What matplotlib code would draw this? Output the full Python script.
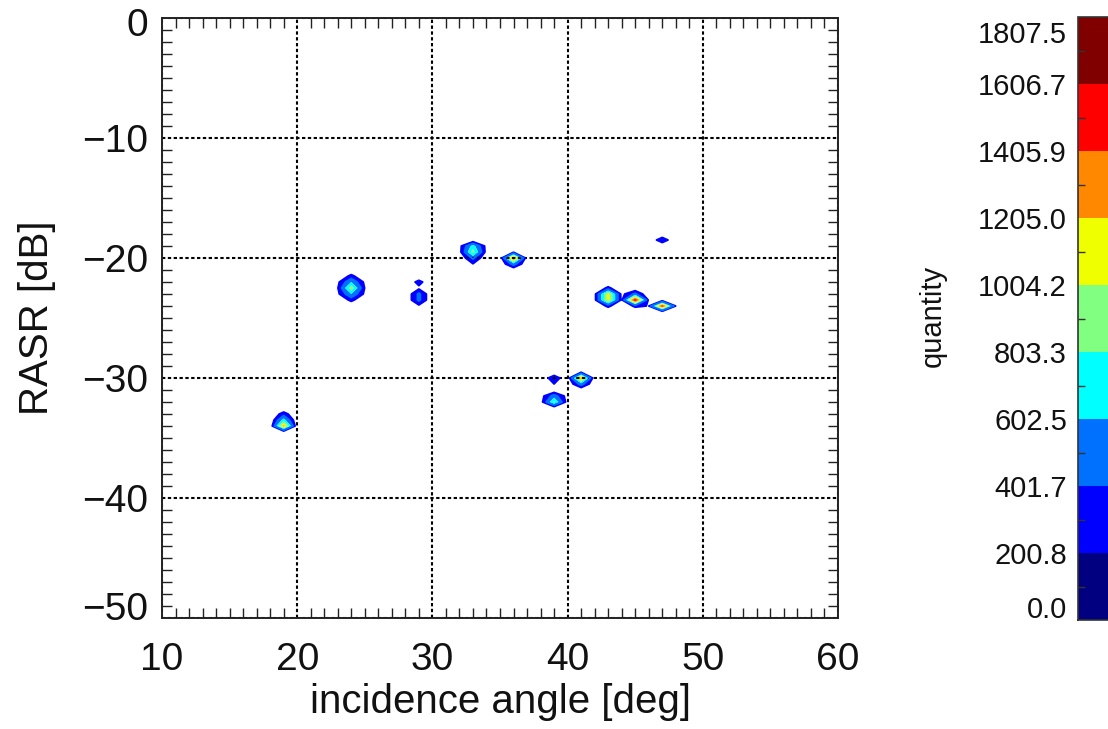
import numpy as np
import matplotlib
matplotlib.use("Agg")
import matplotlib.pyplot as plt
from matplotlib.colors import ListedColormap, BoundaryNorm
from matplotlib.cm import ScalarMappable
from matplotlib.transforms import ScaledTranslation
import matplotlib.ticker as mticker

plt.rcParams['font.family'] = ['Liberation Sans', 'DejaVu Sans']

# ---- 2-D histogram cells (incidence angle [deg], RASR [dB], count) ----
cell_angle = [19, 19, 19,
              24, 24, 24, 24, 24, 23, 25, 23, 25, 23, 25,
              29, 29, 29, 29, 29,
              33, 33, 33, 33, 32, 34, 32, 34,
              36, 36, 36,
              39, 39, 38, 40, 38, 40, 39, 39,
              41, 41, 41,
              43, 43, 43, 43, 42, 42, 44, 44,
              45, 45, 45, 46,
              47, 46, 48,
              47]
cell_rasr = [-34.0, -33.5, -33.0,
             -22.5, -22.0, -23.0, -21.5, -23.5, -22.5, -22.5, -22.0, -22.0, -23.0, -23.0,
             -23.0, -23.5, -22.5, -24.0, -22.0,
             -19.5, -19.0, -20.0, -20.5, -19.5, -19.5, -19.0, -19.0,
             -20.0, -20.5, -19.5,
             -32.0, -31.5, -32.0, -32.0, -31.5, -31.5, -30.0, -30.5,
             -30.0, -30.5, -29.5,
             -23.0, -23.5, -22.5, -24.0, -23.0, -23.5, -23.0, -23.5,
             -23.5, -23.0, -24.0, -23.5,
             -24.0, -24.0, -24.0,
             -18.5]
cell_count = [1300, 700, 300,
              950, 600, 600, 260, 260, 190, 190, 150, 150, 150, 150,
              450, 450, 150, 150, 280,
              900, 700, 450, 190, 114, 114, 120, 120,
              1500, 500, 150,
              850, 500, 86, 86, 100, 100, 350, 200,
              1350, 500, 150,
              1100, 1100, 251, 251, 133, 133, 130, 140,
              1700, 450, 250, 138,
              1600, 190, 190,
              350]

levels = [0.0, 200.8, 401.7, 602.5, 803.3, 1004.2, 1205.0, 1405.9, 1606.7, 1807.5]
level_colors = ['#000080', '#0000ff', '#0070ff', '#00ffff', '#80ff80',
                '#f0ff00', '#ff8800', '#ff0000', '#800000']

x_ticks = [10, 20, 30, 40, 50, 60]
y_ticks = [-50, -40, -30, -20, -10, 0]

# ---- build the histogram grid ----
angle_grid = np.arange(10, 60.5, 1.0)
rasr_grid = np.arange(-50, 0.25, 0.5)
Z = np.zeros((len(rasr_grid), len(angle_grid)))
for a, r, c in zip(cell_angle, cell_rasr, cell_count):
    i = int(round((r + 50) / 0.5))
    j = int(round(a - 10))
    Z[i, j] += c

W, H = 1108, 729
fig = plt.figure(figsize=(W / 100, H / 100), dpi=100)
ax = fig.add_axes([162 / W, 1 - 618 / H, 676 / W, 600 / H])

ax.contourf(angle_grid, rasr_grid, Z, levels=levels[1:], colors=level_colors[1:],
            antialiased=True)
ax.contour(angle_grid, rasr_grid, Z, levels=[levels[1], levels[2]],
           colors=[level_colors[1], level_colors[2]], linewidths=1.3)

ax.set_xlim(10, 60)
ax.set_ylim(-50, 0)
ax.set_xticks(x_ticks)
ax.set_yticks(y_ticks)
ax.xaxis.set_minor_locator(mticker.MultipleLocator(1))
ax.yaxis.set_minor_locator(mticker.MultipleLocator(1))
ax.tick_params(which='both', direction='in', top=True, right=True, color='#222222')
ax.tick_params(which='major', length=0, labelsize=28, labelcolor='#111111')
ax.tick_params(which='minor', length=7, width=1.0)
ax.tick_params(axis='x', which='major', pad=17)
ax.tick_params(axis='y', which='major', pad=10)
ax.grid(True, which='major', color='black', linestyle=(0, (1.6, 1.2)), linewidth=1.5)
for s in ax.spines.values():
    s.set_linewidth(1.4)
    s.set_color('#222222')

ax.set_xlabel('incidence angle [deg]', fontsize=29, color='#111111', va='center')
ax.xaxis.set_label_coords(0.5, (618 - 702) / 600)
ax.set_ylabel('RASR [dB]', fontsize=29, color='#111111', va='center')
ax.yaxis.set_label_coords((37 - 162) / 676, 0.5)

# ---- colorbar ----
cax = fig.add_axes([1078 / W, 1 - 620 / H, 40 / W, 603 / H])
cmap = ListedColormap(level_colors)
norm = BoundaryNorm(levels, cmap.N)
cb = fig.colorbar(ScalarMappable(norm=norm, cmap=cmap), cax=cax, ticks=levels,
                  format='%.1f')
cax.yaxis.set_ticks_position('left')
cax.yaxis.set_label_position('left')
mids = [(levels[k] + levels[k + 1]) / 2 for k in range(len(levels) - 1)]
cax.yaxis.set_minor_locator(mticker.FixedLocator(mids))
cax.tick_params(which='major', length=0, labelsize=21, pad=8, labelcolor='#111111')
cax.tick_params(which='minor', direction='in', length=5, width=1, color='#333333', left=True)
cb.outline.set_linewidth(1.2)
cb.outline.set_edgecolor('#333333')
fig.text(933 / W, 1 - 316 / H, 'quantity', rotation=90, fontsize=21,
         ha='center', va='center', color='#111111')

fig.canvas.draw()
# end labels nudged inward as in the reference
cax_labels = cax.get_yticklabels()
cax_labels[0].set_transform(cax_labels[0].get_transform() + ScaledTranslation(0, 13 / 100, fig.dpi_scale_trans))
cax_labels[-1].set_transform(cax_labels[-1].get_transform() + ScaledTranslation(0, -15 / 100, fig.dpi_scale_trans))
y_labels = ax.get_yticklabels()
y_labels[0].set_transform(y_labels[0].get_transform() + ScaledTranslation(0, 12 / 100, fig.dpi_scale_trans))
y_labels[-1].set_transform(y_labels[-1].get_transform() + ScaledTranslation(0, -4 / 100, fig.dpi_scale_trans))

fig.savefig('out.png', dpi=100)
